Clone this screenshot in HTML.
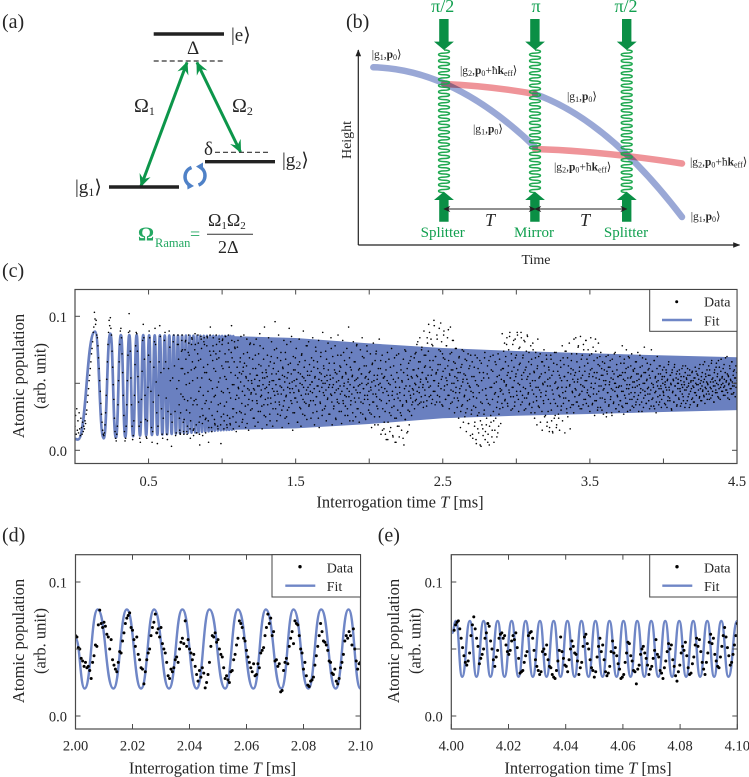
<!DOCTYPE html>
<html lang="en">
<head>
<meta charset="utf-8">
<title>Raman atom interferometer figure</title>
<style>
html,body{margin:0;padding:0;background:#fff;}
svg{display:block;font-family:"Liberation Serif","DejaVu Serif",serif;}
text{fill:#262626;}
.g{fill:#12a050;}
.tick{font-size:14.5px;}
.title{font-size:16.5px;}
.ket{font-size:11.5px;}
.lvl{font-size:19px;}
.letter{font-size:20px;}
.leg{font-size:14px;}
.lab{font-size:15px;}
</style>
</head>
<body>
<svg id="fig" xmlns="http://www.w3.org/2000/svg" width="749" height="777" viewBox="0 0 749 777">
<defs>
<marker id="ga" viewBox="0 0 10 10" refX="9" refY="5" markerUnits="userSpaceOnUse" markerWidth="13" markerHeight="13" orient="auto-start-reverse"><path d="M0 .5L10 5L0 9.5L3.5 5z" fill="#0c964a"/></marker>
<marker id="ba" viewBox="0 0 10 10" refX="9" refY="5" markerUnits="userSpaceOnUse" markerWidth="7" markerHeight="7" orient="auto-start-reverse"><path d="M0 .5L10 5L0 9.5L3 5z" fill="#222"/></marker>
<marker id="ax" viewBox="0 0 10 10" refX="9" refY="5" markerUnits="userSpaceOnUse" markerWidth="7" markerHeight="7" orient="auto"><path d="M0 1L10 5L0 9z" fill="#222"/></marker>
<clipPath id="clipC"><rect x="75" y="289.5" width="662" height="174"/></clipPath>
<clipPath id="clipD"><rect x="75.5" y="554.7" width="285" height="174.3"/></clipPath>
<clipPath id="clipE"><rect x="451.3" y="554.7" width="286" height="174.3"/></clipPath>
</defs>

<!-- Panel (a) -->
<g>
<text class="letter" x="2" y="28">(a)</text>
<line x1="153.7" y1="34" x2="224" y2="34" stroke="#222" stroke-width="3.4"/>
<text class="lvl" x="231" y="41">|e⟩</text>
<text class="lvl" x="187" y="54">Δ</text>
<line x1="153.7" y1="61" x2="224" y2="61" stroke="#333" stroke-width="1.2" stroke-dasharray="5 3"/>
<line x1="141" y1="186" x2="187" y2="62.5" stroke="#0c964a" stroke-width="3" marker-start="url(#ga)" marker-end="url(#ga)"/>
<line x1="197" y1="62.5" x2="240.5" y2="152" stroke="#0c964a" stroke-width="3" marker-start="url(#ga)" marker-end="url(#ga)"/>
<text x="134" y="112" font-size="20">Ω<tspan font-size="12" dy="3">1</tspan></text>
<text x="232" y="112" font-size="20">Ω<tspan font-size="12" dy="3">2</tspan></text>
<text class="lvl" x="204" y="155">δ</text>
<line x1="215" y1="152.3" x2="268" y2="152.3" stroke="#333" stroke-width="1.2" stroke-dasharray="5 3"/>
<line x1="205" y1="161.7" x2="275" y2="161.7" stroke="#222" stroke-width="3.4"/>
<text class="lvl" x="282" y="166">|g<tspan font-size="12" dy="3">2</tspan><tspan dy="-3">⟩</tspan></text>
<line x1="109" y1="187" x2="179" y2="187" stroke="#222" stroke-width="3.4"/>
<text class="lvl" x="75" y="193">|g<tspan font-size="12" dy="3">1</tspan><tspan dy="-3">⟩</tspan></text>
<g fill="none" stroke="#4f81c7" stroke-width="3.5">
<path d="M191.5 167.5A10 10 0 0 0 190 185.5"/>
<path d="M198.5 185A10 10 0 0 0 200 167"/>
<path d="M187 181.5L194 186L187.5 189.5z" fill="#4f81c7" stroke="none"/>
<path d="M203 162.5L196 166.5L203 171z" fill="#4f81c7" stroke="none"/>
</g>
<g>
<text x="138" y="240.5" font-size="20" font-weight="bold" style="fill:#23a862">Ω</text>
<text x="155" y="247" font-size="12.5" style="fill:#23a862">Raman</text>
<text x="190" y="240" font-size="18" style="fill:#23a862">=</text>
<text x="208" y="226" font-size="18">Ω<tspan font-size="11" dy="3">1</tspan><tspan dy="-3">Ω</tspan><tspan font-size="11" dy="3">2</tspan></text>
<line x1="207" y1="234.3" x2="253" y2="234.3" stroke="#333" stroke-width="1"/>
<text x="218" y="253" font-size="18">2Δ</text>
</g>
</g>

<!-- Panel (b) -->
<g>
<text class="letter" x="346" y="28">(b)</text>
<line x1="358.3" y1="245" x2="358.3" y2="50" stroke="#222" stroke-width="1.2" marker-end="url(#ax)"/>
<line x1="358.3" y1="245" x2="739.5" y2="245" stroke="#222" stroke-width="1.2" marker-end="url(#ax)"/>
<text font-size="14" text-anchor="middle" transform="translate(351,140) rotate(-90)">Height</text>
<text font-size="14" x="536" y="264" text-anchor="middle">Time</text>
<g fill="none" stroke-linecap="round" stroke-width="6.5">
<path d="M373.3 67.3Q454 69 535 147" stroke="#9aa8d6"/>
<path d="M535 94Q608 120 682 217" stroke="#9aa8d6"/>
<path d="M444 84Q490 86 535 94" stroke="#ef9499" style="mix-blend-mode:multiply"/>
<path d="M535 149Q600 151 682 163.5" stroke="#ef9499" style="mix-blend-mode:multiply"/>
</g>
<g id="beams"></g>
<g fill="#0a8f45">
<path d="M439.2 19h9.4v22.6h5.3L443.9 50L434 41.6h5.2z"/>
<path d="M530.2 19h9.4v22.6h5.3L535 50L525.2 41.6h5z"/>
<path d="M622 19h9.4v22.6h5.3L626.7 50L616.8 41.6h5.2z"/>
<path d="M439.2 221.7h9.4V200h5.3L443.9 191.7L434 200h5.2z"/>
<path d="M530.2 221.7h9.4V200h5.3L535 191.7L525.2 200h5z"/>
<path d="M622 221.7h9.4V200h5.3L626.7 191.7L616.8 200h5.2z"/>
</g>
<line x1="444" y1="209" x2="535" y2="209" stroke="#222" stroke-width="1" marker-start="url(#ba)" marker-end="url(#ba)"/>
<line x1="535" y1="209" x2="626.7" y2="209" stroke="#222" stroke-width="1" marker-start="url(#ba)" marker-end="url(#ba)"/>
<text x="490" y="226" font-size="18" font-style="italic" text-anchor="middle">T</text>
<text x="585" y="226" font-size="18" font-style="italic" text-anchor="middle">T</text>
<text class="g" x="442.7" y="12" font-size="18" text-anchor="middle">π/2</text>
<text class="g" x="536" y="12" font-size="18" text-anchor="middle">π</text>
<text class="g" x="626" y="12" font-size="18" text-anchor="middle">π/2</text>
<text class="g lab" x="442.7" y="237" text-anchor="middle">Splitter</text>
<text class="g lab" x="534" y="237" text-anchor="middle">Mirror</text>
<text class="g lab" x="626" y="237" text-anchor="middle">Splitter</text>
<text class="ket" x="371.7" y="58">|g<tspan font-size="8" dy="2">1</tspan><tspan dy="-2">,</tspan><tspan font-weight="bold">p</tspan><tspan font-size="8" dy="2">0</tspan><tspan dy="-2">⟩</tspan></text>
<text class="ket" x="460" y="74">|g<tspan font-size="8" dy="2">2</tspan><tspan dy="-2">,</tspan><tspan font-weight="bold">p</tspan><tspan font-size="8" dy="2">0</tspan><tspan dy="-2">+ħ</tspan><tspan font-weight="bold">k</tspan><tspan font-size="8" dy="2">eff</tspan><tspan dy="-2">⟩</tspan></text>
<text class="ket" x="567" y="100">|g<tspan font-size="8" dy="2">1</tspan><tspan dy="-2">,</tspan><tspan font-weight="bold">p</tspan><tspan font-size="8" dy="2">0</tspan><tspan dy="-2">⟩</tspan></text>
<text class="ket" x="473" y="132.7">|g<tspan font-size="8" dy="2">1</tspan><tspan dy="-2">,</tspan><tspan font-weight="bold">p</tspan><tspan font-size="8" dy="2">0</tspan><tspan dy="-2">⟩</tspan></text>
<text class="ket" x="554" y="170.7">|g<tspan font-size="8" dy="2">2</tspan><tspan dy="-2">,</tspan><tspan font-weight="bold">p</tspan><tspan font-size="8" dy="2">0</tspan><tspan dy="-2">+ħ</tspan><tspan font-weight="bold">k</tspan><tspan font-size="8" dy="2">eff</tspan><tspan dy="-2">⟩</tspan></text>
<text class="ket" x="690" y="165.7">|g<tspan font-size="8" dy="2">2</tspan><tspan dy="-2">,</tspan><tspan font-weight="bold">p</tspan><tspan font-size="8" dy="2">0</tspan><tspan dy="-2">+ħ</tspan><tspan font-weight="bold">k</tspan><tspan font-size="8" dy="2">eff</tspan><tspan dy="-2">⟩</tspan></text>
<text class="ket" x="690.7" y="220">|g<tspan font-size="8" dy="2">1</tspan><tspan dy="-2">,</tspan><tspan font-weight="bold">p</tspan><tspan font-size="8" dy="2">0</tspan><tspan dy="-2">⟩</tspan></text>
</g>

<!-- Panel (c) -->
<g>
<text class="letter" x="2" y="277">(c)</text>
<g id="marksC" clip-path="url(#clipC)"></g>
<g id="axesC"></g>
<text class="title" transform="translate(24,376) rotate(-90)" text-anchor="middle">Atomic population</text>
<text class="title" transform="translate(45.7,376) rotate(-90)" text-anchor="middle">(arb. unit)</text>
<text class="title" x="400" y="507.3" text-anchor="middle">Interrogation time <tspan font-style="italic">T</tspan> [ms]</text>
<g>
<rect x="649.7" y="289.5" width="87.3" height="41.8" fill="#fff" stroke="#444" stroke-width="1"/>
<circle cx="676.7" cy="301.7" r="1.5" fill="#000"/>
<text class="leg" x="704" y="306.7">Data</text>
<line x1="662" y1="320" x2="692" y2="320" stroke="#6f86c6" stroke-width="2.4"/>
<text class="leg" x="704" y="325.7">Fit</text>
</g>
</g>

<!-- Panel (d) -->
<g>
<text class="letter" x="2" y="541.7">(d)</text>
<g id="marksD" clip-path="url(#clipD)"></g>
<g id="axesD"></g>
<text class="title" transform="translate(24,641) rotate(-90)" text-anchor="middle">Atomic population</text>
<text class="title" transform="translate(45.7,641) rotate(-90)" text-anchor="middle">(arb. unit)</text>
<text class="title" x="212.5" y="773.3" text-anchor="middle">Interrogation time <tspan font-style="italic">T</tspan> [ms]</text>
<g>
<rect x="272" y="554.7" width="88.5" height="42.3" fill="#fff" stroke="#444" stroke-width="1"/>
<circle cx="300" cy="566.7" r="1.7" fill="#000"/>
<text class="leg" x="326.7" y="572.3">Data</text>
<line x1="285.3" y1="585.7" x2="315.3" y2="585.7" stroke="#6f86c6" stroke-width="2.4"/>
<text class="leg" x="326.7" y="591">Fit</text>
</g>
</g>

<!-- Panel (e) -->
<g>
<text class="letter" x="377.7" y="541.7">(e)</text>
<g id="marksE" clip-path="url(#clipE)"></g>
<g id="axesE"></g>
<text class="title" transform="translate(399,641) rotate(-90)" text-anchor="middle">Atomic population</text>
<text class="title" transform="translate(420.7,641) rotate(-90)" text-anchor="middle">(arb. unit)</text>
<text class="title" x="588" y="773.3" text-anchor="middle">Interrogation time <tspan font-style="italic">T</tspan> [ms]</text>
<g>
<rect x="649.7" y="554.7" width="87.6" height="42.3" fill="#fff" stroke="#444" stroke-width="1"/>
<circle cx="677" cy="566.7" r="1.7" fill="#000"/>
<text class="leg" x="704" y="572.3">Data</text>
<line x1="662.3" y1="585.7" x2="692.3" y2="585.7" stroke="#6f86c6" stroke-width="2.4"/>
<text class="leg" x="704" y="591">Fit</text>
</g>
</g>
</svg>

<script>
// Shared axis ticks
const yTicks = [0, 0.05, 0.1];
const yTickLabels = ["0.0", "", "0.1"];

// Chart (c): ticks
const cXTicks = [0.5, 1, 1.5, 2, 2.5, 3, 3.5, 4, 4.5];
const cXTickLabels = ["0.5", "", "1.5", "", "2.5", "", "3.5", "", "4.5"];

// Chart (c): fit extrema (resolved oscillations)
const cFitTimes = [0,.02,.136,.195,.24,.278,.312,.342,.369,.395,.419,.442,.464,.484,.504,.523,.542,.56,.577,.594,.61,.626,.641,.657,.671,.686,.7,.714,.728,.741,.754,.767,.78,.792,.805,.817,.829,.84,.852,.863,.875,.886,.897,.908,.919,.929,.94,.95,.96,.971,.981,.991,1.0,1.01,1.02,1.03,1.039,1.048,1.058,1.067,1.076,1.085];
const cFitValues = [.0085,.008,.0886,.009,.087,.0095,.086,.010,.086,.0105,.086,.011,.086,.0112,.0858,.0114,.0858,.0116,.0858,.0118,.0857,.012,.0857,.0122,.0857,.0124,.0856,.0126,.0856,.0128,.0856,.013,.0855,.0132,.0855,.0134,.0855,.0136,.0855,.0138,.0854,.014,.0854,.0142,.0854,.0144,.0854,.0146,.0854,.0148,.0853,.015,.0853,.0151,.0853,.0152,.0853,.0153,.0853,.0154,.0852,.0155];

// Chart (c): fit envelope where the oscillation is unresolved
const cEnvTimes = [1.04,1.5,2,2.5,3,3.5,4,4.5];
const cEnvUpper = [.0853,.0838,.0798,.0763,.0741,.0724,.0708,.0694];
const cEnvLower = [.0152,.0164,.0196,.0239,.0258,.0271,.0286,.0300];

// Chart (c): data sampled every 0.004 ms; each row spans 0.1 ms
const cSampleStart = 0;
const cSampleStep = 0.004;
const cValues = [
.018,.026,.012,.031,.015,.022,.013,.028,.016,.011,.024,.017,.012,.021,.014,.018,.016,.022,.020,.027,.030,.036,.041,.046,.052,
.056,.061,.066,.072,.076,.081,.088,.092,.103,.098,.094,.097,.086,.084,.078,.069,.061,.052,.044,.035,.027,.021,.015,.012,.011,
.013,.019,.028,.041,.053,.066,.079,.088,.097,.093,.099,.091,.086,.074,.062,.049,.038,.024,.014,.009,.007,.012,.018,.034,.052,
.066,.079,.089,.091,.084,.072,.058,.041,.026,.014,.007,.009,.018,.034,.052,.071,.088,.102,.089,.074,.054,.034,.018,.008,.011,
.022,.041,.064,.078,.088,.087,.074,.055,.036,.018,.009,.006,.021,.038,.059,.082,.094,.084,.068,.041,.023,.010,.009,.022,.047,
.071,.089,.084,.066,.044,.017,.006,.014,.036,.062,.081,.091,.079,.051,.028,.005,.018,.041,.066,.093,.085,.058,.031,.012,.009,
.024,.061,.082,.088,.066,.039,.012,.008,.029,.061,.089,.077,.052,.027,.003,.021,.054,.081,.086,.063,.029,.011,.013,.046,.079,
.086,.068,.034,.015,.012,.042,.074,.086,.061,.021,.012,.038,.075,.082,.049,.014,.018,.058,.086,.071,.028,.009,.039,.079,.083,
.052,.015,.016,.061,.087,.062,.019,.013,.054,.086,.067,.021,.004,.047,.085,.076,.031,.011,.041,.081,.079,.035,.013,.037,.078,
.084,.044,.006,.031,.074,.092,.052,.017,.026,.067,.084,.061,.023,.019,.059,.086,.068,.029,.016,.051,.083,.074,.035,.005,.044,
.079,.083,.043,.016,.033,.072,.085,.053,.019,.026,.066,.086,.062,.024,.019,.058,.093,.069,.031,.016,.049,.081,.076,.038,.014,
.041,.077,.082,.046,.018,.029,.069,.085,.057,.021,.023,.062,.086,.065,.027,.017,.054,.083,.073,.034,.015,.045,.079,.080,.042,
.052,.031,.068,.024,.079,.045,.018,.061,.083,.037,.056,.021,.072,.048,.087,.029,.063,.041,.016,.054,.076,.034,.092,.046,.025,
.058,.019,.071,.039,.084,.049,.027,.066,.035,.081,.052,.018,.061,.044,.075,.096,.031,.057,.022,.069,.042,.086,.036,.053,.026,
.073,.047,.017,.062,.033,.082,.055,.024,.068,.041,.079,.030,.058,.020,.091,.046,.065,.037,.085,.051,.015,.070,.043,.028,.060,
.039,.076,.053,.021,.064,.045,.083,.032,.057,.018,.071,.049,.027,.089,.054,.036,.067,.042,.078,.023,.059,.047,.081,.034,.056,
.044,.024,.069,.051,.084,.037,.062,.019,.055,.077,.040,.029,.066,.048,.082,.017,.058,.035,.073,.052,.026,.088,.043,.061,.031,
.050,.074,.022,.056,.038,.080,.047,.065,.027,.053,.084,.041,.019,.070,.049,.033,.060,.078,.024,.045,.057,.036,.086,.052,.029,
.063,.042,.071,.020,.054,.082,.035,.048,.067,.026,.058,.040,.076,.031,.051,.092,.044,.022,.062,.037,.073,.055,.028,.081,.047,
.039,.066,.025,.053,.079,.043,.031,.060,.021,.049,.075,.036,.057,.084,.027,.046,.069,.038,.054,.023,.063,.078,.041,.050,.030,
.058,.028,.072,.045,.017,.064,.036,.080,.052,.025,.067,.042,.074,.033,.056,.019,.049,.083,.038,.061,.012,.047,.071,.031,.054,
.016,.055,.029,.066,.008,.044,.073,.021,.050,.037,.014,.062,.026,.076,.041,.011,.053,.033,.069,.006,.047,.024,.058,.018,.039,
.072,.010,.043,.028,.060,.015,.051,.034,.068,.004,.046,.023,.074,.037,.013,.056,.030,.065,.019,.048,.041,.070,.026,.054,.036,
.045,.060,.031,.072,.049,.038,.079,.055,.034,.066,.043,.084,.051,.036,.075,.058,.047,.032,.089,.062,.041,.071,.053,.037,.080,
.056,.094,.040,.067,.048,.083,.035,.060,.078,.044,.097,.052,.034,.070,.058,.086,.041,.064,.050,.091,.036,.074,.046,.081,.055,
.033,.069,.089,.048,.061,.038,.078,.052,.084,.041,.067,.031,.056,.092,.045,.073,.036,.060,.082,.050,.028,.065,.043,.076,.054,
.039,.058,.024,.070,.046,.017,.062,.033,.075,.051,.021,.057,.041,.068,.028,.014,.053,.037,.072,.020,.048,.063,.011,.044,.030,
.066,.009,.040,.055,.018,.071,.032,.005,.049,.026,.061,.013,.043,.067,.022,.003,.052,.035,.016,.058,.027,.069,.008,.046,.019,
.038,.063,.012,.054,.004,.034,.070,.021,.047,.015,.059,.029,.006,.042,.066,.024,.051,.010,.036,.072,.018,.056,.031,.044,.060,
.045,.087,.032,.061,.052,.080,.038,.070,.049,.084,.035,.058,.075,.043,.088,.054,.030,.067,.047,.079,.040,.062,.033,.083,.055,
.071,.041,.086,.050,.029,.064,.077,.044,.088,.056,.036,.069,.047,.082,.039,.060,.031,.074,.053,.085,.042,.066,.034,.057,.048,
.028,.068,.045,.080,.036,.059,.024,.052,.073,.040,.019,.063,.047,.070,.032,.055,.021,.043,.066,.015,.050,.037,.075,.025,.058,
.041,.071,.018,.048,.029,.062,.014,.054,.035,.068,.022,.045,.013,.059,.038,.073,.026,.051,.017,.064,.033,.047,.024,.056,.040,
.067,.030,.052,.078,.043,.035,.064,.055,.074,.039,.047,.028,.069,.058,.037,.080,.049,.032,.061,.072,.044,.053,.034,.083,.056,
.046,.084,.036,.066,.051,.077,.033,.059,.042,.085,.054,.031,.071,.048,.079,.038,.063,.052,.082,.035,.068,.045,.075,.041,.057,
.029,.060,.047,.072,.034,.055,.042,.067,.026,.050,.074,.037,.058,.030,.064,.044,.053,.070,.032,.048,.061,.039,.056,.027,.046,
.065,.036,.052,.025,.059,.043,.071,.033,.049,.062,.038,.054,.028,.068,.045,.035,.057,.050,.073,.031,.047,.060,.040,.055,.034,
.048,.070,.037,.056,.044,.078,.032,.053,.065,.041,.058,.035,.075,.049,.029,.062,.046,.069,.038,.054,.043,.072,.033,.051,.059,
.040,.061,.047,.034,.066,.052,.038,.057,.029,.049,.071,.043,.055,.036,.063,.045,.032,.058,.050,.041,.068,.035,.053,.046,.060,
.037,.056,.042,.064,.033,.050,.059,.039,.047,.067,.031,.054,.044,.036,.061,.048,.052,.034,.063,.041,.057,.046,.038,.055,.050,
.043,.062,.035,.051,.047,.058,.032,.053,.040,.066,.045,.037,.056,.049,.030,.060,.044,.052,.036,.064,.048,.041,.057,.034,.050,
.053,.039,.060,.046,.033,.055,.049,.042,.063,.037,.051,.045,.058,.035,.054,.047,.061,.040,.050,.032,.056,.044,.052,.038,.059,
.048,.036,.054,.043,.062,.050,.041,.057,.034,.049,.053,.039,.064,.046,.052,.037,.058,.045,.051,.040,.066,.047,.055,.042,.060,
.050,.044,.063,.038,.056,.051,.046,.067,.041,.054,.048,.036,.060,.052,.045,.065,.043,.057,.049,.039,.062,.053,.047,.068,.044,
.055,.050,.041,.064,.048,.058,.045,.052,.070,.043,.056,.049,.038,.061,.053,.046,.066,.051,.042,.059,.048,.054,.040,.063,.050,.052
];

// Chart (c): further samples between those above, from T = 0.702 ms; each row spans 0.1 ms
const cExtraStart = 0.702;
const cExtraStep = 0.004;
const cExtraValues = [
.079,.052,.024,.013,.028,.061,.082,.075,.040,.014,.023,.057,.081,.068,.030,.012,.037,.073,.080,.050,.016,.022,.060,.084,.066,
.034,.011,.037,.075,.079,.038,.013,.034,.072,.080,.044,.012,.025,.068,.083,.054,.020,.026,.062,.084,.058,.023,.024,.058,.085,
.064,.022,.017,.053,.086,.071,.036,.014,.046,.078,.074,.040,.020,.041,.072,.079,.047,.018,.034,.069,.081,.054,.019,.025,.063,
.082,.061,.027,.022,.055,.085,.066,.036,.017,.046,.080,.075,.043,.020,.039,.073,.082,.049,.025,.031,.066,.077,.056,.021,.028,
.062,.054,.047,.039,.058,.066,.051,.028,.035,.044,.059,.072,.048,.041,.033,.055,.063,.020,.046,.052,.038,.069,.057,.030,.043,
.050,.037,.061,.046,.024,.053,.071,.042,.056,.035,.048,.029,.064,.052,.078,.040,.045,.033,.058,.049,.068,.026,.054,.038,.060,
.047,.055,.034,.043,.063,.051,.022,.039,.070,.057,.046,.031,.052,.065,.041,.036,.049,.076,.044,.027,.059,.053,.034,.048,.067,
.042,.030,.056,.061,.045,.037,.051,.073,.040,.025,.054,.047,.064,.032,.050,.043,.081,.057,.035,.046,.028,.060,.052,.039,.069,
.048,.053,.036,.021,.058,.044,.066,.050,.031,.041,.072,.055,.038,.047,.062,.026,.052,.035,.045,.078,.056,.042,.033,.064,.049,
.037,.059,.051,.043,.028,.067,.046,.054,.034,.074,.040,.048,.061,.024,.053,.044,.036,.070,.057,.047,.030,.050,.063,.041,.055,
.033,.045,.068,.052,.039,.060,.027,.049,.056,.042,.076,.036,.047,.054,.031,.065,.043,.058,.023,.051,.038,.071,.046,.035,.059,
.048,.062,.029,.044,.055,.037,.073,.050,.041,.033,.057,.064,.046,.026,.053,.040,.069,.049,.034,.060,.042,.056,.022,.047,.066,
.052,.036,.045,.078,.031,.054,.048,.039,.061,.043,.028,.057,.050,.070,.035,.046,.063,.041,.024,.055,.049,.074,.038,.053,.044,
.034,.059,.047,.027,.051,.065,.042,.036,.056,.019,.048,.072,.040,.053,.031,.061,.045,.025,.050,.067,.037,.057,.015,.043,.054,
.021,.046,.012,.060,.035,.052,.008,.041,.068,.028,.049,.017,.056,.032,.044,.010,.063,.038,.024,.051,.006,.071,.042,.030,.054,
.018,.047,.037,.064,.026,.052,.033,.009,.058,.041,.075,.023,.048,.036,.061,.014,.053,.044,.029,.067,.039,.055,.034,.046,.060,
.042,.069,.050,.037,.073,.056,.044,.081,.061,.047,.035,.066,.053,.040,.077,.058,.049,.036,.071,.045,.063,.054,.033,.084,.051,
.074,.047,.088,.062,.041,.056,.079,.038,.067,.052,.093,.044,.070,.057,.036,.083,.060,.048,.075,.040,.064,.095,.053,.034,.072,
.059,.086,.045,.068,.038,.054,.078,.049,.063,.090,.041,.057,.072,.035,.060,.050,.082,.044,.066,.039,.055,.076,.047,.061,.032,
.052,.037,.069,.043,.058,.029,.048,.064,.034,.053,.074,.040,.025,.056,.045,.067,.031,.050,.020,.061,.038,.047,.071,.027,.055,
.012,.043,.033,.062,.021,.052,.008,.039,.069,.016,.048,.028,.058,.004,.036,.065,.019,.045,.011,.054,.030,.073,.014,.041,.024,
.057,.006,.035,.067,.018,.047,.026,.060,.010,.038,.071,.022,.050,.015,.043,.064,.032,.055,.013,.040,.027,.068,.046,.020,.053,
.035,.061,.042,.074,.051,.037,.066,.048,.079,.056,.033,.063,.045,.085,.054,.040,.072,.059,.031,.047,.082,.052,.036,.069,.057,
.044,.088,.060,.038,.076,.049,.065,.034,.084,.053,.041,.071,.058,.030,.081,.046,.062,.039,.086,.055,.043,.073,.035,.050,.078,
.064,.032,.052,.075,.042,.058,.028,.069,.047,.037,.061,.083,.033,.054,.045,.072,.040,.057,.029,.066,.049,.035,.063,.051,.026,
.044,.068,.021,.053,.038,.060,.017,.048,.071,.030,.056,.014,.042,.065,.024,.050,.035,.073,.019,.046,.059,.027,.041,.015,.054,
.062,.033,.047,.022,.069,.039,.055,.013,.044,.074,.031,.052,.025,.063,.037,.048,.016,.057,.067,.034,.043,.060,.028,.051,.040,
.058,.045,.072,.036,.053,.078,.041,.062,.031,.049,.068,.044,.056,.034,.075,.047,.059,.038,.082,.052,.043,.065,.033,.055,.071,
.040,.084,.050,.061,.035,.077,.046,.058,.037,.083,.054,.042,.069,.032,.080,.048,.063,.039,.073,.056,.030,.066,.045,.052,.060,
.038,.049,.070,.028,.057,.043,.062,.034,.051,.067,.040,.046,.026,.059,.053,.036,.072,.044,.050,.031,.064,.041,.055,.047,.029,
.056,.037,.065,.048,.033,.058,.044,.027,.068,.052,.039,.061,.046,.035,.054,.070,.042,.049,.030,.063,.055,.038,.047,.060,.032,
.051,.043,.066,.036,.057,.048,.073,.041,.053,.034,.062,.046,.056,.029,.069,.050,.039,.077,.044,.058,.035,.052,.065,.042,.047,
.061,.031,.054,.045,.075,.038,.059,.049,.033,.067,.043,.055,.028,.051,.070,.040,.057,.046,.036,.063,.048,.032,.053,.060,.044,
.041,.055,.049,.034,.060,.045,.052,.037,.064,.047,.039,.056,.050,.031,.058,.043,.053,.036,.062,.048,.041,.054,.033,.059,.046,
.050,.038,.057,.044,.052,.035,.061,.047,.040,.055,.049,.032,.063,.045,.053,.037,.056,.048,.042,.060,.034,.051,.046,.058,.039,
.052,.047,.036,.054,.043,.059,.049,.033,.056,.045,.061,.040,.050,.037,.055,.048,.044,.064,.041,.053,.035,.057,.046,.051,.038,
.049,.056,.042,.060,.047,.039,.065,.053,.044,.051,.036,.058,.048,.043,.062,.050,.055,.040,.067,.046,.052,.038,.059,.049,.054,
.044,.061,.047,.053,.041,.069,.051,.045,.057,.039,.055,.050,.063,.046,.052,.042,.066,.048,.056,.043,.060,.050,.054,.047,.058
];

// Chart (d): ticks
const dXTicks = [2.00, 2.02, 2.04, 2.06, 2.08, 2.10];
const dXTickLabels = ["2.00", "2.02", "2.04", "2.06", "2.08", "2.10"];

// Chart (d): fit extrema
const dFitTimes = [2.0,2.0032,2.0078,2.0133,2.018,2.023,2.0276,2.0328,2.0375,2.0425,2.047,2.0525,2.057,2.0624,2.0668,2.0722,2.0765,2.0817,2.0862,2.0913,2.0958,2.1];
const dFitValues = [.058,.0205,.0795,.0205,.0795,.0205,.0795,.0205,.0795,.0205,.0795,.0205,.0795,.0205,.0795,.0205,.0795,.0205,.0795,.0205,.0795,.0205];

// Chart (d): data sampled every 0.0005 ms
const dSampleStart = 2.0;
const dSampleStep = 0.0005;
const dValues = [
.060,.059,.051,.050,.043,.041,
.037,.040,.036,.037,.034,.028,.040,.045,.053,.052,
.068,.079,.069,.066,.070,.067,.061,.059,.050,.057,
.042,.038,.035,.033,.040,.048,.047,.056,.062,.069,
.073,.075,.077,.066,.064,.057,.052,.059,.046,.042,
.036,.035,.024,.033,.042,.047,.050,.060,.066,.070,
.076,.062,.065,.059,.066,.054,.050,.047,.040,.030,
.028,.035,.033,.036,.042,.044,.040,.050,.055,.058,
.054,.071,.052,.057,.050,.047,.042,.046,.037,.031,
.026,.034,.029,.036,.032,.021,.025,.031,.040,.052,
.060,.059,.062,.055,.057,.050,.046,.044,.036,.028,
.030,.027,.025,.033,.034,.042,.046,.053,.058,.071,
.069,.066,.058,.056,.049,.044,.040,.036,.033,.039,
.030,.031,.039,.036,.047,.049,.051,.060,.066,.076,
.069,.073,.060,.063,.041,.042,.037,.039,.018,.019,
.034,.040,.043,.039,.052,.058,.063,.054,.071,.069,
.068,.060,.050,.047,.035,.040,.030,.023,.022,.026,
.027,.029,.038,.045,.052,.060,.069,.063,.056,.055,
.053,.049,.041,.040,.032,.031,.035,.026,.024,.028,
.036,.040,.046,.056,.060,.058,.063,.060,.053,.065,
.050,.041,.035,.039,.040
];

// Chart (e): ticks
const eXTicks = [4.00, 4.02, 4.04, 4.06, 4.08, 4.10];
const eXTickLabels = ["4.00", "4.02", "4.04", "4.06", "4.08", "4.10"];

// Chart (e): fit extrema
const eFitTimes = [4.0003,4.0016,4.0038,4.0065,4.0088,4.0113,4.0137,4.0162,4.0186,4.0211,4.0235,4.026,4.0285,4.031,4.0333,4.0358,4.0382,4.0406,4.0431,4.0455,4.048,4.0504,4.0529,4.0553,4.0578,4.0602,4.0627,4.065,4.0675,4.0699,4.0724,4.0748,4.0772,4.0797,4.0821,4.0846,4.087,4.0895,4.0919,4.0944,4.0969,4.1];
const eFitValues = [.062,.0709,.0293,.0709,.0293,.0709,.0293,.0709,.0293,.0709,.0293,.0709,.0293,.0709,.0293,.0709,.0293,.0709,.0293,.0709,.0293,.0709,.0293,.0709,.0293,.0709,.0293,.0709,.0293,.0709,.0293,.0709,.0293,.0709,.0293,.0709,.0293,.0709,.0293,.0709,.0293,.0709];

// Chart (e): data sampled about every 0.0005 ms
const eSampleStart = 4.001;
const eSampleStep = 0.00049;
const eValues = [
.064,.068,.070,.071,.065,.058,.051,.045,.040,.038,
.041,.047,.060,.068,.074,.065,.058,.052,.039,.043,
.046,.050,.058,.062,.069,.067,.056,.050,.042,.037,
.044,.049,.058,.061,.062,.058,.060,.053,.048,.046,
.049,.056,.060,.057,.062,.051,.043,.032,.033,.034,
.040,.045,.048,.060,.062,.063,.058,.049,.042,.037,
.034,.031,.033,.048,.050,.046,.053,.042,.037,.036,
.031,.029,.028,.034,.041,.049,.059,.048,.043,.038,
.037,.033,.042,.050,.056,.052,.047,.046,.041,.031,
.036,.040,.052,.059,.061,.054,.050,.042,.036,.034,
.029,.033,.044,.052,.058,.048,.053,.042,.033,.030,
.032,.037,.048,.056,.047,.051,.045,.039,.035,.028,
.029,.031,.040,.047,.055,.054,.045,.041,.034,.033,
.024,.035,.038,.046,.050,.052,.047,.043,.038,.031,
.035,.037,.043,.049,.057,.046,.044,.034,.032,.028,
.036,.041,.048,.054,.050,.053,.042,.037,.030,.026,
.033,.038,.047,.052,.049,.055,.045,.036,.031,.032,
.039,.044,.053,.058,.052,.057,.048,.040,.035,.031,
.040,.047,.055,.061,.054,.058,.046,.041,.037,.036,
.044,.052,.060,.066,.059,.051,.045,.038,.040,.046,
.053,.060,.069,.064,.060
];

const SVGNS = "http://www.w3.org/2000/svg";
function el(parent, tag, attrs) {
  const node = document.createElementNS(SVGNS, tag);
  for (const k in attrs) node.setAttribute(k, attrs[k]);
  parent.appendChild(node);
  return node;
}
function linearScale(d0, d1, r0, r1) {
  return function (v) { return r0 + (v - d0) * (r1 - r0) / (d1 - d0); };
}
function bumpPath(ts, vs, sx, sy) {
  let d = "M" + sx(ts[0]).toFixed(2) + " " + sy(vs[0]).toFixed(2);
  for (let i = 1; i < ts.length; i++) {
    const x0 = sx(ts[i - 1]), x1 = sx(ts[i]), y0 = sy(vs[i - 1]), y1 = sy(vs[i]);
    const mx = ((x0 + x1) / 2).toFixed(2);
    d += "C" + mx + " " + y0.toFixed(2) + " " + mx + " " + y1.toFixed(2) + " " + x1.toFixed(2) + " " + y1.toFixed(2);
  }
  return d;
}
function drawAxes(group, box, sx, sy, xTicks, xLabels, xLabelY, yLabelX, yLabelShift) {
  const frame = el(group, "rect", {x: box.x0, y: box.y0, width: box.x1 - box.x0, height: box.y1 - box.y0, fill: "none", stroke: "#4a4a4a", "stroke-width": 1.2});
  
  
  xTicks.forEach(function (t, i) {
    const x = sx(t);
    const bottomTick = el(group, "line", {x1: x, x2: x, y1: box.y1, y2: box.y1 - 5, stroke: "#4a4a4a", "stroke-width": 1});
    
    
    const topTick = el(group, "line", {x1: x, x2: x, y1: box.y0, y2: box.y0 + 5, stroke: "#4a4a4a", "stroke-width": 1});
    
    
    if (xLabels[i]) {
      const lab = el(group, "text", {x: x, y: xLabelY, "text-anchor": "middle", "class": "tick"});
      
      
      lab.textContent = xLabels[i];
    }
  });
  yTicks.forEach(function (v, i) {
    const y = sy(v);
    const leftTick = el(group, "line", {x1: box.x0, x2: box.x0 + 5, y1: y, y2: y, stroke: "#4a4a4a", "stroke-width": 1});
    
    
    const rightTick = el(group, "line", {x1: box.x1, x2: box.x1 - 5, y1: y, y2: y, stroke: "#4a4a4a", "stroke-width": 1});
    
    
    if (yTickLabels[i]) {
      const lab = el(group, "text", {x: yLabelX, y: y + yLabelShift, "text-anchor": "end", "class": "tick"});
      
      
      lab.textContent = yTickLabels[i];
    }
  });
}
function drawDots(group, values, start, step, sx, sy, r) {
  values.forEach(function (v, i) {
    const dot = el(group, "circle", {cx: sx(start + i * step).toFixed(2), cy: sy(v).toFixed(2), r: r, fill: "#000"});
    
    
  });
}

// Raman beam squiggles
[444, 535, 626.7].forEach(function (cx) {
  let d = "", up = true;
  d = "M" + cx + " 50";
  for (let y = 50; y < 192; y += 3.1) {
    const side = up ? 5.5 : -5.5;
    d += "C" + (cx + side * 1.33) + " " + y + " " + (cx + side * 1.33) + " " + (y + 3.1) + " " + cx + " " + (y + 3.1);
    up = !up;
  }
  const beam = el(document.getElementById("beams"), "path", {d: d, fill: "none", stroke: "#1ea84f", "stroke-width": 1.5});
  
  
});

// Chart (c)
(function () {
  const sx = linearScale(0, 4.5, 75, 737);
  const sy = linearScale(0, 0.1, 450.3, 316.3);
  const g = document.getElementById("marksC");
  const fit = el(g, "path", {d: bumpPath(cFitTimes, cFitValues, sx, sy), fill: "none", stroke: "#6a80c0", "stroke-width": 2.7});
  
  
  let pts = [];
  cEnvTimes.forEach(function (t, i) { pts.push(sx(t).toFixed(2) + "," + sy(cEnvUpper[i]).toFixed(2)); });
  for (let i = cEnvTimes.length - 1; i >= 0; i--) pts.push(sx(cEnvTimes[i]).toFixed(2) + "," + sy(cEnvLower[i]).toFixed(2));
  const band = el(g, "polygon", {points: pts.join(" "), fill: "#6a80c0"});
  
  
  drawDots(g, cValues, cSampleStart, cSampleStep, sx, sy, 0.8);
  drawDots(g, cExtraValues, cExtraStart, cExtraStep, sx, sy, 0.8);
  drawAxes(document.getElementById("axesC"), {x0: 75, x1: 737, y0: 289.5, y1: 463.5}, sx, sy, cXTicks, cXTickLabels, 486, 67, 5.5);
})();

// Chart (d)
(function () {
  const sx = linearScale(2.0, 2.1, 75.5, 360.5);
  const sy = linearScale(0, 0.1, 716, 582);
  const g = document.getElementById("marksD");
  const fit = el(g, "path", {d: bumpPath(dFitTimes, dFitValues, sx, sy), fill: "none", stroke: "#6f86c6", "stroke-width": 2.4});
  
  
  drawDots(g, dValues, dSampleStart, dSampleStep, sx, sy, 1.5);
  drawAxes(document.getElementById("axesD"), {x0: 75.5, x1: 360.5, y0: 554.7, y1: 729}, sx, sy, dXTicks, dXTickLabels, 750.7, 67, 5.5);
})();

// Chart (e)
(function () {
  const sx = linearScale(4.0, 4.1, 451.3, 737.3);
  const sy = linearScale(0, 0.1, 716, 582);
  const g = document.getElementById("marksE");
  const fit = el(g, "path", {d: bumpPath(eFitTimes, eFitValues, sx, sy), fill: "none", stroke: "#6f86c6", "stroke-width": 2.4});
  
  
  drawDots(g, eValues, eSampleStart, eSampleStep, sx, sy, 1.5);
  drawAxes(document.getElementById("axesE"), {x0: 451.3, x1: 737.3, y0: 554.7, y1: 729}, sx, sy, eXTicks, eXTickLabels, 750.7, 442.7, 5.5);
})();
</script>
</body>
</html>
